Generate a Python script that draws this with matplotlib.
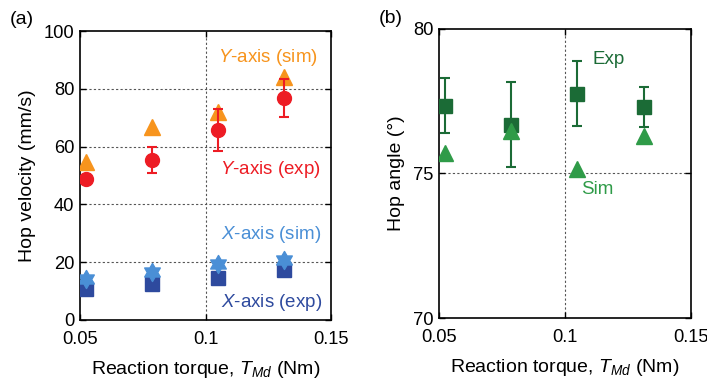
import matplotlib
matplotlib.use("Agg")
import numpy as np
import matplotlib.pyplot as plt
from matplotlib.path import Path
from matplotlib.ticker import FixedLocator, FixedFormatter

plt.rcParams['font.family'] = ['Liberation Sans', 'DejaVu Sans']
plt.rcParams['mathtext.fontset'] = 'custom'
plt.rcParams['mathtext.rm'] = 'Liberation Sans'
plt.rcParams['mathtext.it'] = 'Liberation Sans:italic'

# Data
torque = [0.0524, 0.0787, 0.1049, 0.1314]
y_sim = [54.8, 66.8, 72.0, 84.0]
y_exp = [48.8, 55.4, 65.7, 76.9]
y_exp_err = [0.8, 4.6, 7.2, 6.7]
x_sim = [14.2, 16.7, 19.4, 20.8]
x_exp = [10.7, 12.5, 14.5, 17.3]
ang_exp = [77.34, 76.68, 77.75, 77.31]
ang_err_lo = [0.95, 1.47, 1.10, 0.69]
ang_err_hi = [0.96, 1.50, 1.15, 0.69]
ang_sim = [75.70, 76.48, 75.16, 76.30]

xticks = [0.05, 0.1, 0.15]
xticklabels = ['0.05', '0.1', '0.15']

c_orange = '#F7941D'
c_red = '#ED1C24'
c_lblue = '#4A8FD6'
c_dblue = '#2E4A9E'
c_dgreen = '#1B6B36'
c_green = '#2F9B48'

FS = 14
TFS = 13.2
AFS = 13.5

# hexagram marker (two overlapping triangles)
ang = np.pi / 2 + np.arange(12) * np.pi / 6
rad = np.where(np.arange(12) % 2 == 0, 1.0, 1 / np.sqrt(3))
verts = np.column_stack([rad * np.cos(ang), rad * np.sin(ang)])
verts = np.vstack([verts, verts[:1]])
hexagram = Path(verts, closed=True)

fig = plt.figure(figsize=(7.07, 3.8), dpi=100)
ax1 = fig.add_axes([0.1132, 0.158, 0.355, 0.760])
ax2 = fig.add_axes([0.621, 0.163, 0.356, 0.761])

def style(ax):
    ax.tick_params(direction='in', top=True, right=True, labelsize=TFS, length=4, width=1, pad=4)
    ax.tick_params(axis='x', pad=8)
    for s in ax.spines.values():
        s.set_linewidth(1.2)
    ax.xaxis.set_major_locator(FixedLocator(xticks))
    ax.xaxis.set_major_formatter(FixedFormatter(xticklabels))
    ax.set_xlim(0.05, 0.15)
    ax.set_xlabel(r'Reaction torque, $\mathit{T}_{\mathit{Md}}$ (Nm)', fontsize=FS, labelpad=8)

# Panel (a)
ax1.set_ylim(0, 100)
ax1.set_yticks([0, 20, 40, 60, 80, 100])
for yv in [20, 40, 60, 80]:
    ax1.axhline(yv, color='#555555', lw=0.8, ls=(0, (2, 2)), zorder=0)
ax1.axvline(0.1, color='#555555', lw=0.8, ls=(0, (2, 2)), zorder=0)

ax1.plot(torque, y_sim, ls='none', marker='^', ms=11, color=c_orange, mec=c_orange, zorder=3)
ax1.errorbar(torque, y_exp, yerr=y_exp_err, fmt='o', ms=10, color=c_red, mec=c_red,
             ecolor=c_red, elinewidth=1.5, capsize=3.5, capthick=1.5, zorder=4)
ax1.plot(torque, x_exp, ls='none', marker='s', ms=10.5, color=c_dblue, mec=c_dblue, zorder=3)
ax1.plot(torque, x_sim, ls='none', marker=hexagram, ms=13, color=c_lblue, mec=c_lblue, zorder=4)

style(ax1)
ax1.set_ylabel('Hop velocity (mm/s)', fontsize=FS, labelpad=6)

ax1.text(0.1249, 91, r'$\mathit{Y}$-axis (sim)', color=c_orange, fontsize=AFS, ha='center', va='center')
ax1.text(0.1257, 52, r'$\mathit{Y}$-axis (exp)', color=c_red, fontsize=AFS, ha='center', va='center')
ax1.text(0.1263, 29.5, r'$\mathit{X}$-axis (sim)', color=c_lblue, fontsize=AFS, ha='center', va='center')
ax1.text(0.1263, 6, r'$\mathit{X}$-axis (exp)', color=c_dblue, fontsize=AFS, ha='center', va='center')

# Panel (b)
ax2.set_ylim(70, 80)
ax2.set_yticks([70, 75, 80])
ax2.axhline(75, color='#555555', lw=0.8, ls=(0, (2, 2)), zorder=0)
ax2.axvline(0.1, color='#555555', lw=0.8, ls=(0, (2, 2)), zorder=0)

ax2.errorbar(torque, ang_exp, yerr=[ang_err_lo, ang_err_hi], fmt='s', ms=10.5, color=c_dgreen,
             mec=c_dgreen, ecolor=c_dgreen, elinewidth=1.5, capsize=3.5, capthick=1.5, zorder=3)
ax2.plot(torque, ang_sim, ls='none', marker='^', ms=11, color=c_green, mec=c_green, zorder=4)

style(ax2)
ax2.set_ylabel('Hop angle (°)', fontsize=FS, labelpad=6)
ax2.text(0.1175, 78.93, 'Exp', color=c_dgreen, fontsize=AFS, ha='center', va='center')
ax2.text(0.1127, 74.43, 'Sim', color=c_green, fontsize=AFS, ha='center', va='center')

fig.text(0.031, 0.948, '(a)', fontsize=FS, ha='center', va='center')
fig.text(0.552, 0.952, '(b)', fontsize=FS, ha='center', va='center')

fig.savefig('out.png', dpi=100)
